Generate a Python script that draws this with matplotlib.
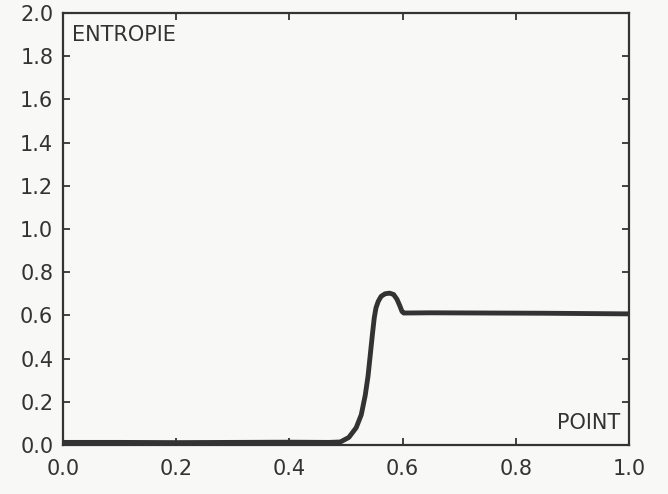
import matplotlib
matplotlib.use("Agg")
import matplotlib.pyplot as plt

# Data
point = [0.0, 0.10, 0.20, 0.30, 0.40, 0.47, 0.490, 0.505, 0.518, 0.527, 0.534, 0.539,
         0.543, 0.547, 0.550, 0.553, 0.557, 0.562, 0.569, 0.577, 0.584, 0.590,
         0.595, 0.599, 0.602, 0.65, 0.75, 0.85, 0.95, 1.0]
entropie = [0.012, 0.012, 0.011, 0.012, 0.013, 0.012, 0.014, 0.035, 0.08, 0.14, 0.23, 0.32,
            0.42, 0.52, 0.59, 0.635, 0.665, 0.688, 0.700, 0.703, 0.697, 0.675,
            0.645, 0.618, 0.611, 0.612, 0.611, 0.610, 0.608, 0.607]

x_ticks = [0.0, 0.2, 0.4, 0.6, 0.8, 1.0]
y_ticks = [0.0, 0.2, 0.4, 0.6, 0.8, 1.0, 1.2, 1.4, 1.6, 1.8, 2.0]

ink = "#333333"
bg = "#f8f8f6"

fig = plt.figure(figsize=(6.68, 4.94), dpi=100, facecolor=bg)
ax = fig.add_axes([0.0943, 0.0992, 0.8473, 0.8745], facecolor=bg)

ax.plot(point, entropie, color=ink, lw=3.5, solid_capstyle="butt", solid_joinstyle="round")

ax.set_xlim(0, 1)
ax.set_ylim(0, 2)
ax.set_xticks(x_ticks)
ax.set_yticks(y_ticks)
ax.set_xticklabels([f"{v:.1f}" for v in x_ticks])
ax.set_yticklabels([f"{v:.1f}" for v in y_ticks])
ax.tick_params(direction="in", length=5, width=1.3, color=ink, labelcolor=ink,
               labelsize=15, top=True, right=True)
ax.tick_params(axis="x", pad=10)
ax.tick_params(axis="y", pad=7)
for s in ax.spines.values():
    s.set_color(ink)
    s.set_linewidth(1.6)

ax.text(0.016, 0.972, "ENTROPIE", transform=ax.transAxes, ha="left", va="top",
        fontsize=15, color=ink)
ax.text(0.985, 0.028, "POINT", transform=ax.transAxes, ha="right", va="bottom",
        fontsize=15, color=ink)

fig.savefig("out.png", dpi=100, facecolor=bg)
